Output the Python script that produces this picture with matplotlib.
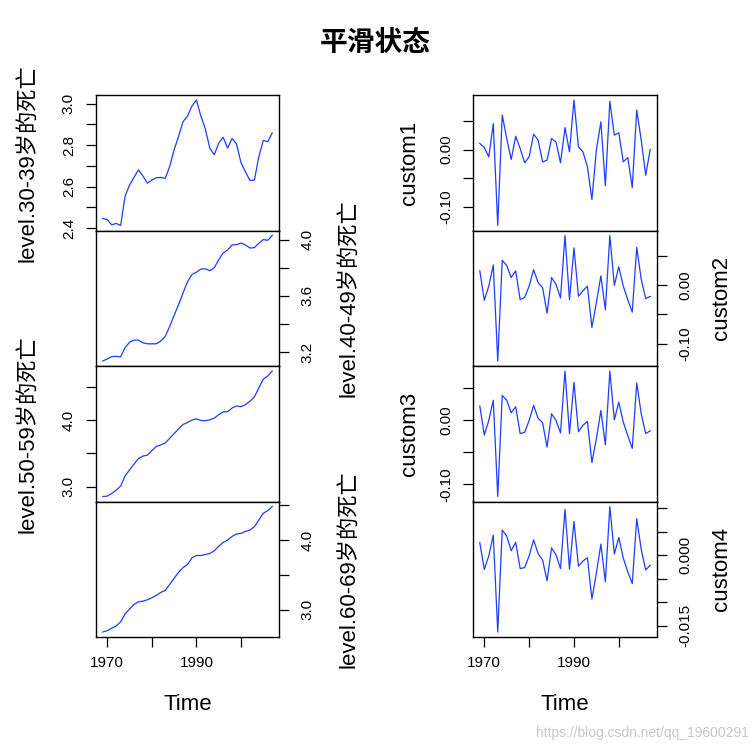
import numpy as np
import matplotlib
matplotlib.use("Agg")
import matplotlib.pyplot as plt
from matplotlib.ticker import FixedLocator, FixedFormatter

plt.rcParams['font.family'] = ['Liberation Sans', 'Noto Sans CJK SC', 'DejaVu Sans']

years = np.arange(1969, 2008)

level_30_39 = [2.447, 2.441, 2.416, 2.423, 2.413, 2.554, 2.608, 2.645, 2.681, 2.652,
               2.617, 2.632, 2.643, 2.645, 2.640, 2.697, 2.778, 2.843, 2.914, 2.940,
               2.989, 3.018, 2.940, 2.878, 2.786, 2.754, 2.810, 2.838, 2.786, 2.833,
               2.805, 2.716, 2.672, 2.630, 2.632, 2.745, 2.823, 2.817, 2.859]
level_40_49 = [3.138, 3.152, 3.169, 3.171, 3.167, 3.233, 3.271, 3.286, 3.286, 3.267,
               3.260, 3.260, 3.260, 3.279, 3.312, 3.383, 3.462, 3.538, 3.621, 3.700,
               3.752, 3.769, 3.790, 3.793, 3.779, 3.800, 3.857, 3.905, 3.926, 3.962,
               3.964, 3.976, 3.962, 3.940, 3.943, 3.974, 4.000, 3.995, 4.029]
level_50_59 = [2.854, 2.859, 2.899, 2.949, 3.010, 3.162, 3.253, 3.338, 3.424, 3.460,
               3.475, 3.540, 3.606, 3.626, 3.657, 3.727, 3.798, 3.869, 3.934, 3.965,
               4.000, 4.020, 3.995, 3.990, 4.005, 4.030, 4.081, 4.126, 4.126, 4.182,
               4.212, 4.202, 4.232, 4.283, 4.348, 4.485, 4.616, 4.662, 4.737]
level_60_69 = [2.683, 2.702, 2.736, 2.769, 2.827, 2.942, 3.010, 3.077, 3.115, 3.125,
               3.144, 3.173, 3.207, 3.250, 3.279, 3.365, 3.452, 3.538, 3.606, 3.649,
               3.745, 3.779, 3.779, 3.793, 3.808, 3.846, 3.913, 3.966, 4.000, 4.053,
               4.087, 4.096, 4.125, 4.144, 4.192, 4.288, 4.385, 4.423, 4.481]

custom1 = [0.0105, 0.0035, -0.0128, 0.045, -0.132, 0.060, 0.019, -0.0174, 0.023, 0.0017,
           -0.023, -0.0128, 0.0267, 0.0163, -0.0215, -0.0186, 0.019, 0.013, -0.023, 0.038,
           -0.004, 0.086, 0.0046, -0.004, -0.030, -0.087, -0.001, 0.048, -0.063, 0.084,
           0.025, 0.029, -0.0215, -0.014, -0.066, 0.0686, 0.0163, -0.0447, 0.000]
custom2 = [0.024, -0.026, -0.002, 0.034, -0.129, 0.042, 0.033, 0.0126, 0.024, -0.025,
           -0.021, -0.002, 0.026, 0.004, -0.0046, -0.048, 0.0126, 0.001, -0.022, 0.084,
           -0.025, 0.063, -0.019, -0.010, -0.002, -0.072, -0.030, 0.0155, -0.042, 0.084,
           -0.0006, 0.031, -0.002, -0.025, -0.046, 0.064, 0.0097, -0.023, -0.0195]
custom3 = [0.022, -0.023, -0.0005, 0.031, -0.119, 0.0385, 0.031, 0.0115, 0.021, -0.021,
           -0.019, -0.0005, 0.023, 0.003, -0.004, -0.042, 0.010, -0.0005, -0.020, 0.0766,
           -0.021, 0.059, -0.018, -0.008, -0.002, -0.066, -0.029, 0.015, -0.0386, 0.0766,
           0.0005, 0.028, -0.003, -0.024, -0.044, 0.058, 0.010, -0.021, -0.0167]
custom4 = [0.0027, -0.0030, -0.0001, 0.0043, -0.0163, 0.0054, 0.0041, 0.0010, 0.0028, -0.0028,
           -0.0026, -0.0001, 0.0033, 0.0004, -0.0010, -0.0054, 0.0016, 0.0001, -0.0028, 0.0098,
           -0.0029, 0.0072, -0.0023, -0.0012, -0.0005, -0.0093, -0.0038, 0.0024, -0.0056, 0.0104,
           0.0003, 0.0038, -0.0006, -0.0035, -0.0060, 0.0078, 0.0013, -0.0031, -0.0021]

# (label, values, ticks, labelled ticks)
left_panels = [
    ("level.30-39岁的死亡", level_30_39, [2.4, 2.5, 2.6, 2.7, 2.8, 2.9, 3.0], ["2.4", "", "2.6", "", "2.8", "", "3.0"]),
    ("level.40-49岁的死亡", level_40_49, [3.2, 3.4, 3.6, 3.8, 4.0], ["3.2", "", "3.6", "", "4.0"]),
    ("level.50-59岁的死亡", level_50_59, [3.0, 3.5, 4.0, 4.5], ["3.0", "", "4.0", ""]),
    ("level.60-69岁的死亡", level_60_69, [3.0, 3.5, 4.0, 4.5], ["3.0", "", "4.0", ""]),
]
right_panels = [
    ("custom1", custom1, [-0.10, -0.05, 0.0, 0.05], ["-0.10", "", "0.00", ""]),
    ("custom2", custom2, [-0.10, -0.05, 0.0, 0.05], ["-0.10", "", "0.00", ""]),
    ("custom3", custom3, [-0.10, -0.05, 0.0, 0.05], ["-0.10", "", "0.00", ""]),
    ("custom4", custom4, [-0.015, -0.010, -0.005, 0.0, 0.005, 0.010],
     ["-0.015", "", "", "0.000", "", ""]),
]
xticks = [1970, 1980, 1990, 2000]
xticklabels = ["1970", "", "1990", ""]

W = 753.0
tick_font = ['Liberation Sans Narrow', 'Liberation Sans', 'DejaVu Sans']
line_col = '#1f3cff'

fig = plt.figure(figsize=(7.53, 7.53), dpi=100)


def pad_range(lo, hi):
    d = (hi - lo) * 0.04
    return lo - d, hi + d


def draw_column(panels, x0, width, lab_left, lab_right):
    top, bottom = 95.0, 637.0
    h = (bottom - top) / 4
    for k, (label, vals, ticks, tlabels) in enumerate(panels):
        y_top = top + k * h
        ax = fig.add_axes([x0 / W, 1 - (y_top + h) / W, width / W, h / W])
        ax.plot(years, vals, color=line_col, lw=0.9)
        ax.set_xlim(*pad_range(years[0], years[-1]))
        ax.set_ylim(*pad_range(min(vals), max(vals)))
        for s in ax.spines.values():
            s.set_linewidth(1.0)
        ax.yaxis.set_major_locator(FixedLocator(ticks))
        ax.yaxis.set_major_formatter(FixedFormatter(tlabels))
        on_right = (k % 2 == 1)
        if on_right:
            ax.yaxis.tick_right()
        # labels are centred on the anchor, so pad is to the label centre
        ax.tick_params(axis='y', length=7.5, width=0.9, pad=13 if on_right else 12,
                       labelsize=11, labelrotation=90)
        for t in ax.get_yticklabels():
            t.set_va('center')
            t.set_ha('center')
            t.set_family(tick_font)
        if k == 3:
            ax.xaxis.set_major_locator(FixedLocator(xticks))
            ax.xaxis.set_major_formatter(FixedFormatter(xticklabels))
            ax.tick_params(axis='x', length=7.5, width=0.9, pad=6, labelsize=11)
            for t in ax.get_xticklabels():
                t.set_family(tick_font)
        else:
            ax.set_xticks([])
        lx = lab_right if on_right else lab_left
        ax.text((lx - x0) / width, 0.5, label, transform=ax.transAxes,
                rotation=90, ha='center', va='center', fontsize=16)
    fig.text((x0 + width / 2) / W, 1 - 704 / W, "Time", ha='center', va='center',
             fontsize=16)


draw_column(left_panels, 96.0, 183.0, 29.0, 350.0)
draw_column(right_panels, 473.0, 184.0, 410.0, 721.0)

fig.text(0.499, 1 - 43 / W, "平滑状态", ha='center', va='center', fontsize=20,
         fontweight='bold', family=['Noto Sans CJK SC'])
fig.text(0.995, 1 - 733 / W, "https://blog.csdn.net/qq_19600291", ha='right',
         va='center', fontsize=10, color='#c8c8c8')

fig.savefig("out.png", dpi=100)
